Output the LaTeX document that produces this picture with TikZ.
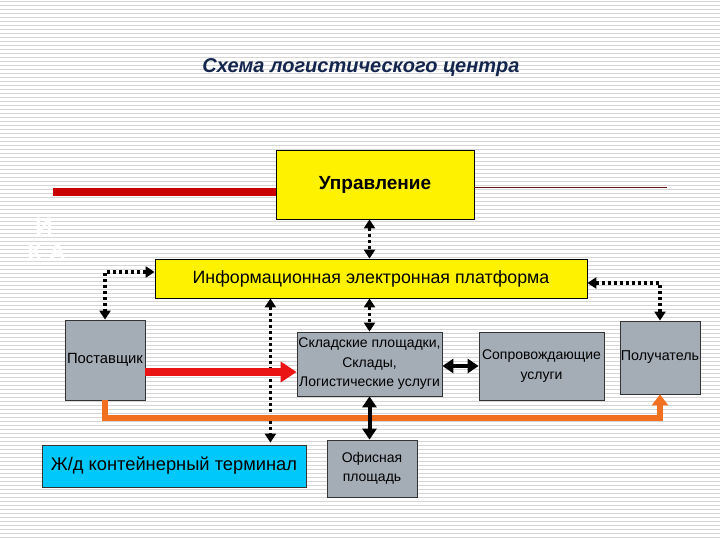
\documentclass[tikz,border=0pt]{standalone}
\usepackage{fontspec}
\setmainfont{Liberation Sans}
\usetikzlibrary{arrows.meta,calc}
\definecolor{boxgray}{RGB}{164,172,182}
\definecolor{stripegray}{RGB}{214,214,214}
\definecolor{titleblue}{RGB}{20,38,78}
\definecolor{myred}{RGB}{235,20,20}
\definecolor{darkred}{RGB}{200,0,0}
\definecolor{myorange}{RGB}{240,112,32}
\definecolor{termcyan}{RGB}{0,200,250}
\definecolor{thinred}{RGB}{100,20,20}
\tikzset{
  graybox/.style={draw=black!80, line width=0.8pt, fill=boxgray, inner sep=0pt, align=center, font=\fontsize{14}{19.5}\selectfont},
  yellowbox/.style={draw=black, line width=0.8pt, fill=yellow, inner sep=0pt, align=center},
  dotarrow/.style={line width=3.5pt, dash pattern=on 3.5pt off 2.5pt, {Triangle[width=11pt,length=9pt]}-{Triangle[width=11pt,length=9pt]}},
  thickblack/.style={line width=4pt, {Triangle[width=14pt,length=11pt]}-{Triangle[width=14pt,length=11pt]}},
  stripe/.style={stripegray, line width=1.2pt}
}
\begin{document}
\begin{tikzpicture}[x=1pt,y=-1pt]
\useasboundingbox (0,0) rectangle (720,540);
\fill[white] (0,0) rectangle (720,540);
\foreach \i in {0,...,134} \draw[stripe] (0,{\i*4+1.5}) -- (720,{\i*4+1.5});

\node[font=\fontsize{20}{24}\selectfont\bfseries\itshape, text=titleblue] (title) at (361,68) {Схема логистического центра};

\node[white, font=\fontsize{24}{26}\selectfont\bfseries] (li) at (44,226) {И};
\node[white, font=\fontsize{24}{26}\selectfont\bfseries] (lka) at (47,252) {К А};

\node[yellowbox, minimum width=198pt, minimum height=69pt, font=\fontsize{19}{22}\selectfont\bfseries] (upr) at (375,184.5) {Управление};
\node[yellowbox, minimum width=432pt, minimum height=39pt, font=\fontsize{17.8}{21}\selectfont] (plat) at (371,278.5) {Информационная электронная платформа};
\node[graybox, minimum width=80pt, minimum height=80pt, font=\fontsize{14.8}{19}\selectfont] (post) at (105,360) {Поставщик};
\node[graybox, minimum width=145pt, minimum height=64pt] (sk) at (369.5,364) {Складские площадки,\\Склады,\\Логистические услуги};
\node[graybox, minimum width=125pt, minimum height=68pt] (sop) at (541.5,366) {Сопровождающие\\услуги};
\node[graybox, minimum width=80pt, minimum height=73pt, font=\fontsize{14.3}{19}\selectfont] (recv) at (660,357.5) {Получатель};
\node[draw=black!80, line width=0.8pt, fill=termcyan, inner sep=0pt, minimum width=264pt, minimum height=42pt, font=\fontsize{18.3}{21}\selectfont] (term) at (174,466) {Ж/д контейнерный терминал};
\node[graybox, minimum width=90pt, minimum height=57pt] (off) at (372,468.5) {Офисная\\площадь};

% lines beside Управление
\coordinate (redstart) at (53,192);
\coordinate (thinend) at (667,188);
\draw[darkred, line width=8pt] (redstart) -- (redstart -| upr.west);
\draw[thinred, line width=1pt] (thinend -| upr.east) -- (thinend);

% dotted arrows
\draw[dotarrow] (upr.south -| sk.north) -- (plat.north -| sk.north);
\draw[dotarrow] ($(plat.west)+(0,-6.5)$) -| (post.north);
\draw[dotarrow] ($(plat.east)+(0,4.5)$) -| (recv.north);
\draw[dotarrow] (plat.south -| sk.north) -- (sk.north);
\coordinate (tdot) at ($(term.north east)+(-36,-2)$);
\draw[dotarrow] (plat.south -| tdot) -- (tdot);

% red arrow
\draw[myred, line width=8pt, -{Triangle[width=20pt,length=16pt]}] ($(post.east)+(0,12)$) -- ($(sk.west)+(0,8)$);

% orange path
\draw[myorange, line width=6pt, -{Triangle[width=16pt,length=11pt]}] (post.south) -- ++(0,18) -| (recv.south);

% thick black arrows
\draw[thickblack] (sk.east |- sop.west) -- (sop.west);
\draw[thickblack] (sk.south) -- (sk.south |- off.north);
\end{tikzpicture}
\end{document}
